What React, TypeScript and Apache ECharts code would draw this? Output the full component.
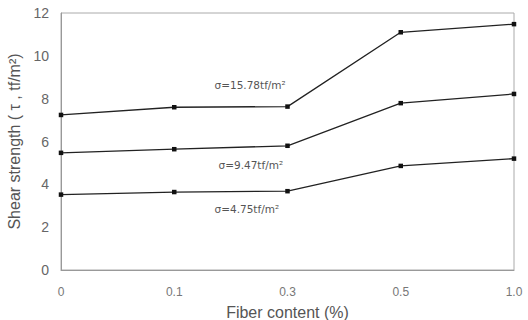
import React, { useEffect, useRef } from "react";
import * as echarts from "echarts";

const categories = ["0", "0.1", "0.3", "0.5", "1.0"];
const high = [7.24, 7.6, 7.63, 11.1, 11.48];
const mid = [5.47, 5.64, 5.8, 7.79, 8.22];
const low = [3.52, 3.64, 3.68, 4.86, 5.2];
const seriesLabels = ["σ=15.78tf/m²", "σ=9.47tf/m²", "σ=4.75tf/m²"];
const yTicks = [0, 2, 4, 6, 8, 10, 12];

const FONT = "Liberation Sans, Arial, sans-serif";
const LFONT = "DejaVu Sans, sans-serif";

export default function App() {
  const ref = useRef<HTMLDivElement>(null);
  useEffect(() => {
    if (!ref.current) return;
    const chart = echarts.init(ref.current, undefined, { renderer: "svg" });
    const mkSeries = (data: number[], label: string, offset: number[]) => ({
      type: "line",
      data: data.map((v, i) =>
        i === 1
          ? {
              value: v,
              label: {
                show: true,
                position: "right",
                distance: 0,
                offset,
                formatter: label,
                color: "#555",
                fontSize: 10.5,
                fontFamily: LFONT,
              },
            }
          : v
      ),
      symbol: "rect",
      symbolSize: 4.5,
      itemStyle: { color: "#111" },
      lineStyle: { color: "#222", width: 1.3 },
    });
    chart.setOption({
      animation: false,
      backgroundColor: "#fff",
      grid: {
        left: 61,
        right: 14,
        top: 13,
        bottom: 50,
        show: true,
        borderColor: "#aaa",
        borderWidth: 1,
        containLabel: false,
        outerBoundsMode: "none",
      },
      xAxis: {
        type: "category",
        data: categories,
        boundaryGap: false,
        name: "Fiber content (%)",
        nameLocation: "middle",
        nameGap: 34,
        nameTextStyle: { color: "#555", fontSize: 16, fontFamily: FONT },
        axisLine: { lineStyle: { color: "#999" } },
        axisTick: { show: false },
        axisLabel: { color: "#777", fontSize: 12, margin: 16, fontFamily: FONT },
        splitLine: { show: false },
      },
      yAxis: {
        type: "value",
        min: yTicks[0],
        max: yTicks[yTicks.length - 1],
        interval: 2,
        name: "Shear strength ( τ , tf/m²)",
        nameLocation: "middle",
        nameGap: 33,
        nameTextStyle: { color: "#555", fontSize: 16, fontFamily: FONT },
        axisLine: { show: true, lineStyle: { color: "#999" } },
        axisTick: { show: false },
        axisLabel: { color: "#666", fontSize: 14, margin: 12, fontFamily: FONT },
        splitLine: { show: false },
      },
      series: [
        mkSeries(high, seriesLabels[0], [38, -22]),
        mkSeries(mid, seriesLabels[1], [42, 16]),
        mkSeries(low, seriesLabels[2], [38, 17]),
      ],
    });
    return () => chart.dispose();
  }, []);
  return (
    <div
      ref={ref}
      style={{ position: "fixed", left: 0, top: 0, width: 528, height: 320 }}
    />
  );
}
